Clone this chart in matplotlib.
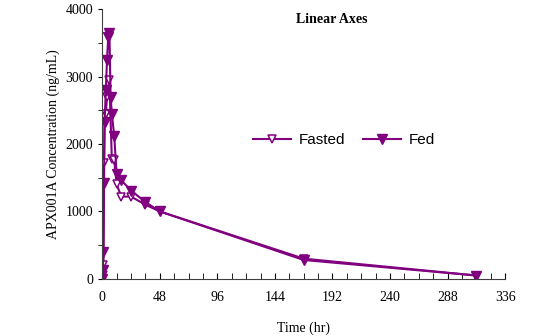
import matplotlib.pyplot as plt
from matplotlib.ticker import MultipleLocator

# Sampling times (hr) and concentrations (ng/mL)
fed_time = [0, 0.5, 1, 1.5, 2, 3, 4, 5, 6, 7, 8, 10, 12, 16, 24, 36, 48, 168, 312]
fed_conc = [0, 130, 400, 1420, 2330, 2800, 3250, 3580, 3650, 2700, 2450, 2120, 1560, 1460, 1310, 1140, 1000, 280, 50]

fasted_time = [0, 0.5, 1, 1.5, 2, 3, 4, 6, 8, 10, 12, 16, 24, 36, 48, 168, 312]
fasted_conc = [0, 60, 200, 1720, 2330, 2450, 2700, 2950, 1780, 1760, 1400, 1220, 1220, 1100, 1000, 300, 50]

color = '#800080'

plt.figure(figsize=(5.38, 3.36), dpi=100)
ax = plt.axes([0.19, 0.17, 0.749, 0.803])

ax.plot(fasted_time, fasted_conc, color=color, lw=1.5, marker='v', ms=6,
        mfc='white', mec=color, mew=1.1, label='Fasted')
ax.plot(fed_time, fed_conc, color=color, lw=1.5, marker='v', ms=7,
        mfc=color, mec=color, label='Fed')

ax.set_xlim(0, 336)
ax.set_ylim(0, 4000)
ax.xaxis.set_major_locator(MultipleLocator(48))
ax.xaxis.set_minor_locator(MultipleLocator(12))
ax.yaxis.set_major_locator(MultipleLocator(1000))
ax.yaxis.set_minor_locator(MultipleLocator(500))
ax.tick_params(axis='x', which='both', direction='in', length=4, labelsize=10, pad=9)
ax.tick_params(axis='y', which='both', direction='out', length=3, labelsize=10)
for lab in ax.get_xticklabels() + ax.get_yticklabels():
    lab.set_family('Liberation Serif')

for s in ['top', 'right']:
    ax.spines[s].set_visible(False)
for s in ['left', 'bottom']:
    ax.spines[s].set_color('#404040')

ax.set_xlabel('Time (hr)', family='Liberation Serif', fontsize=10, labelpad=12)
ax.set_ylabel('APX001A Concentration (ng/mL)', family='Liberation Serif', fontsize=10)
ax.text(0.57, 0.985, 'Linear Axes', transform=ax.transAxes, ha='center', va='top',
        family='Liberation Serif', fontweight='bold', fontsize=10)

ax.legend(loc='center', bbox_to_anchor=(0.6, 0.515), ncol=2, frameon=False,
          prop={'family': 'Liberation Sans', 'size': 11}, handlelength=2.5,
          columnspacing=1.2, handletextpad=0.5)

plt.savefig('out.png', dpi=100)
plt.close()
